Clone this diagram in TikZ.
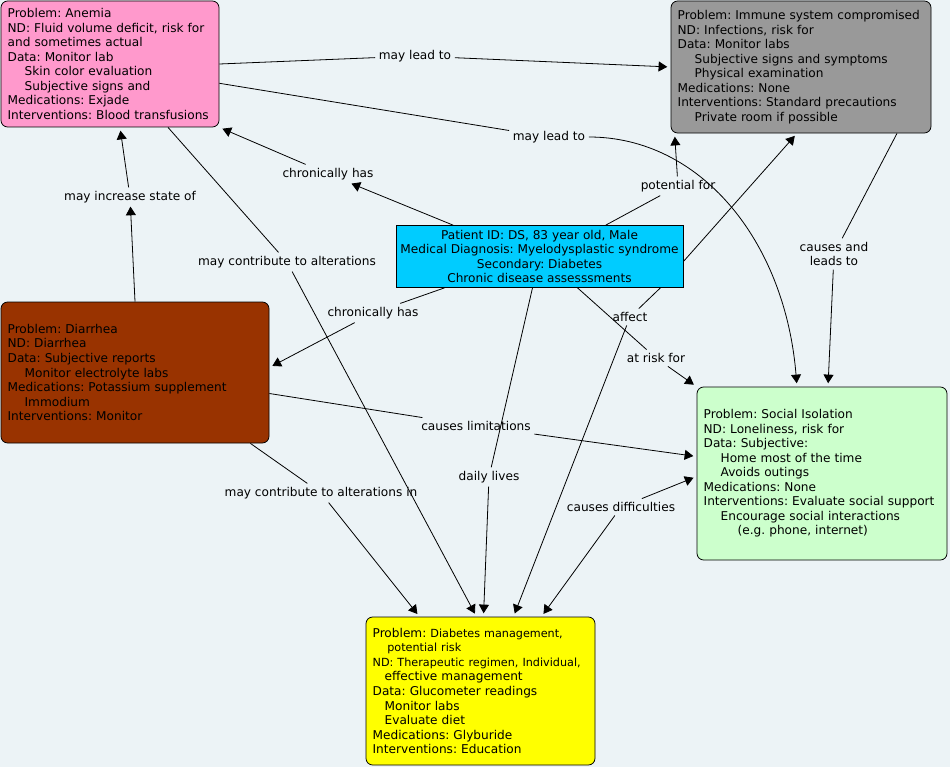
\documentclass[tikz,border=0pt]{standalone}
\usepackage{fontspec}
\setmainfont{DejaVu Sans}
\usetikzlibrary{arrows.meta,calc}
\frenchspacing

\definecolor{mapbg}{RGB}{236,243,246}
\definecolor{anemiapink}{RGB}{255,153,204}
\definecolor{immunegray}{RGB}{153,153,153}
\definecolor{patientblue}{RGB}{0,204,255}
\definecolor{diarrheabrown}{RGB}{153,51,0}
\definecolor{socialgreen}{RGB}{204,255,204}
\definecolor{diabyellow}{RGB}{255,255,0}

\newcommand{\indt}{\hspace*{12.75pt}}
\newcommand{\smalltxt}[1]{{\fontsize{8.4}{10.9}\selectfont #1}}

\begin{document}
\begin{tikzpicture}[x=0.75pt, y=-0.75pt,
    line width=0.6pt,
    >={Triangle[length=6.5pt,width=7.5pt]},
    every node/.style = {font=\fontsize{9.1}{10.9}\selectfont},
    concept/.style = {
      draw,
      rounded corners = 5pt,
      align = left,
      inner xsep = 5pt
    },
    lbl/.style = {inner sep = 2.5pt, align = center},
    tobox/.style = {->, shorten >= 2.5pt}
  ]
  \fill[mapbg] (0,0) rectangle (950,767);
  \useasboundingbox (0,0) rectangle (950,767);

  % concepts
  \node[concept, fill=anemiapink, text width=153.5pt, minimum height=94.5pt] (anemia) at (110,64)
    {Problem: Anemia\\ ND: Fluid volume deficit, risk for\\ and sometimes actual\\ Data: Monitor lab\\
     \indt Skin color evaluation\\ \indt Subjective signs and\\ Medications: Exjade\\ Interventions: Blood transfusions};
  \node[concept, fill=immunegray, text width=185pt, minimum height=99pt] (immune) at (801,67)
    {Problem: Immune system compromised\\ ND: Infections, risk for\\ Data: Monitor labs\\
     \indt Subjective signs and symptoms\\ \indt Physical examination\\ Medications: None\\
     Interventions: Standard precautions\\ \indt Private room if possible};
  \node[draw, fill=patientblue, align=center, minimum width=212.25pt, minimum height=45.75pt] (patient) at (539.5,256.5)
    {Patient ID: DS, 83 year old, Male\\ Medical Diagnosis: Myelodysplastic syndrome\\ Secondary: Diabetes\\ Chronic disease assesssments};
  \node[concept, fill=diarrheabrown, text width=191pt, minimum height=105.75pt] (diarrhea) at (135,372.5)
    {Problem: Diarrhea\\ ND: Diarrhea\\ Data: Subjective reports\\ \indt Monitor electrolyte labs\\
     Medications: Potassium supplement\\ \indt Immodium\\ Interventions: Monitor};
  \node[concept, fill=socialgreen, text width=177.5pt, minimum height=129.75pt] (social) at (822,473.5)
    {Problem: Social Isolation\\ ND: Loneliness, risk for\\ Data: Subjective:\\ \indt Home most of the time\\
     \indt Avoids outings\\ Medications: None\\ Interventions: Evaluate social support\\
     \indt Encourage social interactions\\ \indt\indt(e.g. phone, internet)};
  \node[concept, fill=diabyellow, text width=161.75pt, minimum height=111pt] (diabetes) at (480.5,691)
    {Problem: \smalltxt{Diabetes management,}\\ \hspace*{11pt}\smalltxt{potential risk}\\
     \smalltxt{ND: Therapeutic regimen, Individual,}\\ \hspace*{9pt}effective management\\
     Data: Glucometer readings\\ \hspace*{9pt}Monitor labs\\ \hspace*{9pt}Evaluate diet\\
     Medications: Glyburide\\ Interventions: Education};

  % linking phrases
  \node[lbl] (lead1)     at (415,56)  {may lead to};
  \node[lbl] (lead2)     at (549,137) {may lead to};
  \node[lbl] (chron1)    at (328,174) {chronically has};
  \node[lbl] (potfor)    at (678,186) {potential for};
  \node[lbl] (incr)      at (130,197) {may increase state of};
  \node[lbl] (contrib)   at (287,262) {may contribute to alterations};
  \node[lbl] (causes)    at (834,254) {causes and\\ leads to};
  \node[lbl] (chron2)    at (373,313) {chronically has};
  \node[lbl] (affect)    at (630,317) {affect};
  \node[lbl] (risk)      at (656,358) {at risk for};
  \node[lbl] (limits)    at (476,426) {causes limitations};
  \node[lbl] (daily)     at (489,477) {daily lives};
  \node[lbl] (contribin) at (321,493) {may contribute to alterations in};
  \node[lbl] (diff)      at (621,507) {causes difficulties};

  % links
  \draw (anemia.east) -- (lead1);
  \draw[tobox] (lead1) -- (immune.west);
  \draw (anemia.-10) -- (lead2);
  \draw[tobox] (lead2.east) .. controls (700,137) and (785,240) .. ($(social.north)+(-25,0)$);
  \draw[->] ($(patient.north west)!0.2!(patient.north east)$) -- (chron1);
  \draw[tobox] (chron1) -- (anemia.south east);
  \draw ($(patient.north west)!0.73!(patient.north east)$) -- (potfor);
  \draw[tobox] (potfor) -- ($(immune.south west)+(4,0)$);
  \draw[tobox] ($(patient.east)+(0,5)$) -- ($(immune.south)+(-4,0)$);
  \draw[->] (diarrhea.north) -- (incr);
  \draw[tobox] (incr) -- ($(anemia.south)+(10,0)$);
  \draw ($(anemia.south)+(58,0)$) -- (contrib);
  \draw[tobox] (contrib) -- ($(diabetes.north)+(-4,0)$);
  \draw ($(immune.south)+(96,0)$) -- (causes);
  \draw[tobox] (causes) -- ($(social.north)+(6,0)$);
  \draw ($(patient.south west)+(49,0)$) -- (chron2);
  \draw[tobox] (chron2) -- ($(diarrhea.east)+(0,-5)$);
  \draw ($(patient.south east)+(-23,0)$) -- (affect);
  \draw[tobox] (affect) -- ($(diabetes.north)+(33,0)$);
  \draw ($(patient.south)+(38,0)$) -- (risk);
  \draw[tobox] (risk) -- (social.north west);
  \draw ($(diarrhea.east)+(0,21)$) -- (limits);
  \draw[tobox] (limits) -- ($(social.west)+(0,-17)$);
  \draw ($(patient.south)+(-7,0)$) -- (daily);
  \draw[tobox] (daily) -- ($(diabetes.north)+(3,0)$);
  \draw ($(diarrhea.south east)+(-19,0)$) -- (contribin);
  \draw[tobox] (contribin) -- ($(diabetes.north)+(-61,0)$);
  \draw[tobox] (diff) -- ($(diabetes.north)+(61,0)$);
  \draw[tobox] (diff) -- ($(social.west)+(0,3)$);
\end{tikzpicture}
\end{document}
